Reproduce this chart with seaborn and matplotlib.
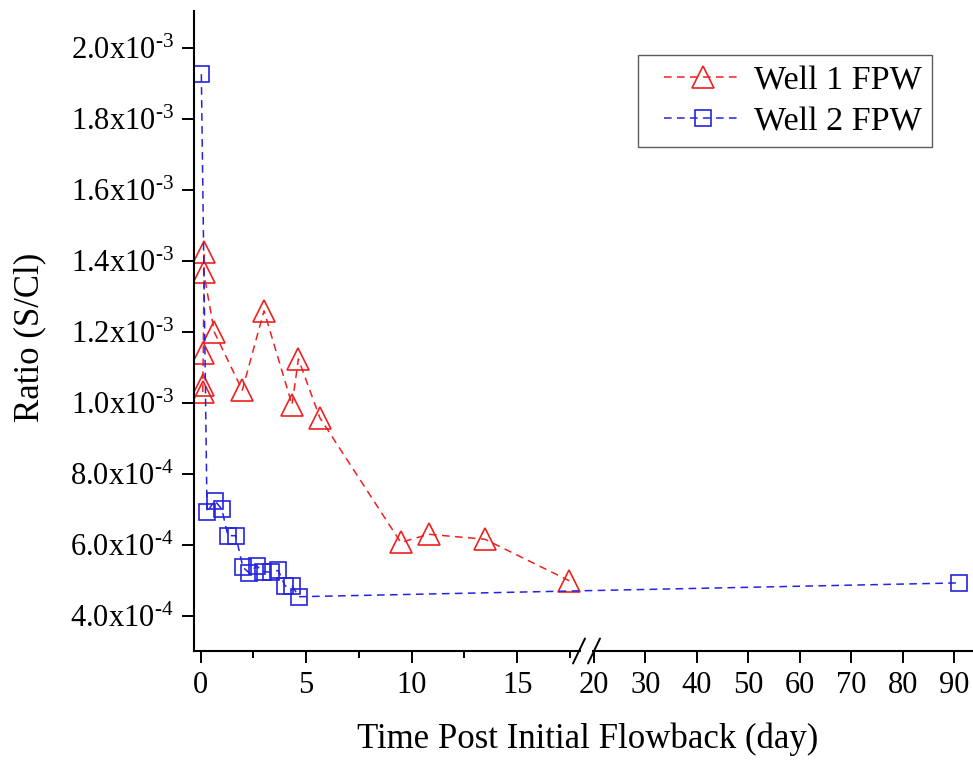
import numpy as np
import pandas as pd
import matplotlib
matplotlib.use("Agg")
import matplotlib.pyplot as plt
import seaborn as sns
from matplotlib.ticker import FuncFormatter, FixedLocator
from matplotlib.lines import Line2D
from matplotlib.legend_handler import HandlerLine2D

# ---------------- data ----------------
well1_day = [0.10, 0.10, 0.12, 0.17, 0.14, 0.65, 1.97, 3.00, 4.33, 4.63, 5.65, 9.48, 10.8, 13.47, 17.47]
well1_ratio = [1.030e-3, 1.050e-3, 1.140e-3, 1.425e-3, 1.368e-3, 1.198e-3, 1.035e-3, 1.259e-3,
               0.994e-3, 1.123e-3, 0.957e-3, 6.06e-4, 6.29e-4, 6.15e-4, 4.98e-4]

well2_day = [0.03, 0.30, 0.66, 1.00, 1.29, 1.66, 2.00, 2.30, 2.65, 2.95, 3.32, 3.68, 4.00, 4.33, 4.66, 90.9]
well2_ratio = [1.926e-3, 6.91e-4, 7.24e-4, 7.00e-4, 6.25e-4, 6.25e-4, 5.36e-4, 5.20e-4, 5.40e-4,
               5.24e-4, 5.22e-4, 5.27e-4, 4.83e-4, 4.83e-4, 4.53e-4, 4.92e-4]

series_names = ["Well 1 FPW", "Well 2 FPW"]
x_major_ticks = [0, 5, 10, 15, 20, 30, 40, 50, 60, 70, 80, 90]
x_minor_ticks = [2.5, 7.5, 12.5, 17.5]
y_ticks = [4e-4, 6e-4, 8e-4, 1.0e-3, 1.2e-3, 1.4e-3, 1.6e-3, 1.8e-3, 2.0e-3]

# ---------------- style ----------------
sns.set_style("ticks")
plt.rcParams["font.family"] = ["Liberation Serif", "DejaVu Serif"]
plt.rcParams["mathtext.fontset"] = "custom"
plt.rcParams["mathtext.rm"] = "Liberation Serif"
plt.rcParams["mathtext.it"] = "Liberation Serif:italic"
plt.rcParams["mathtext.bf"] = "Liberation Serif:bold"
for k in ["text.color", "axes.labelcolor", "xtick.color", "ytick.color", "axes.edgecolor"]:
    plt.rcParams[k] = "black"

RED = "#ee2020"
BLUE = "#2424e0"

# broken x-axis as a piecewise-linear scale
B1, X2, D2, K = 18.4, 20.0, 18.63, 0.2441


def fwd(x):
    x = np.asarray(x, dtype=float)
    return np.where(x <= B1, x,
                    np.where(x >= X2, D2 + (x - X2) * K,
                             B1 + (x - B1) * (D2 - B1) / (X2 - B1)))


def inv(d):
    d = np.asarray(d, dtype=float)
    return np.where(d <= B1, d,
                    np.where(d >= D2, X2 + (d - D2) / K,
                             B1 + (d - B1) * (X2 - B1) / (D2 - B1)))


fig = plt.figure(figsize=(9.73, 7.61), dpi=100)
ax = fig.add_axes([194 / 973, 1 - 651 / 761, 779 / 973, 640 / 761])
ax.set_xscale("function", functions=(fwd, inv))

df1 = pd.DataFrame({"day": well1_day, "ratio": well1_ratio})
df2 = pd.DataFrame({"day": well2_day, "ratio": well2_ratio})

sns.lineplot(data=df1, x="day", y="ratio", ax=ax, sort=False, estimator=None,
             color=RED, linestyle="--", linewidth=1.1, marker="^", markersize=16.5,
             markerfacecolor="none", markeredgecolor=RED, markeredgewidth=1.2,
             label=series_names[0])
sns.lineplot(data=df2, x="day", y="ratio", ax=ax, sort=False, estimator=None,
             color=BLUE, linestyle="--", linewidth=1.1, marker="s", markersize=12,
             markerfacecolor="none", markeredgecolor=BLUE, markeredgewidth=1.2,
             label=series_names[1])
for ln in ax.get_lines():
    ln.set_dashes((5, 3.5))

ax.set_xlim(float(inv(-0.318)), float(inv(36.6)))
ax.set_ylim(3.0e-4, 2.104e-3)

ax.xaxis.set_major_locator(FixedLocator(x_major_ticks))
ax.xaxis.set_minor_locator(FixedLocator(x_minor_ticks))
ax.xaxis.set_major_formatter(FuncFormatter(lambda v, p: f"{v:g}"))
ax.yaxis.set_major_locator(FixedLocator(y_ticks))
ax.yaxis.set_minor_locator(FixedLocator([]))


def yfmt(v, p):
    e = int(np.floor(np.log10(v) + 1e-9))
    m = v / 10 ** e
    return f"{m:.1f}x10$^{{\\text{{-{abs(e)}}}}}$"


ax.yaxis.set_major_formatter(FuncFormatter(yfmt))

for s in ["top", "right"]:
    ax.spines[s].set_visible(False)
for s in ["left", "bottom"]:
    ax.spines[s].set_linewidth(1.5)
    ax.spines[s].set_color("black")

ax.tick_params(axis="both", which="major", direction="out", length=8.5, width=1.4,
               labelsize=22, colors="black")
ax.tick_params(axis="x", which="minor", direction="out", length=5, width=1.4, colors="black")
ax.tick_params(axis="x", which="major", pad=6)
ax.tick_params(axis="y", which="major", pad=6)

ax.set_xlabel("Time Post Initial Flowback (day)", fontsize=25)
ax.set_ylabel("Ratio (S/Cl)", fontsize=25)
ax.xaxis.set_label_coords(0.505, -0.111)
ax.yaxis.set_label_coords(-0.189, 0.49)

# axis break marks
bw, bh = 6 / 779, 12.5 / 640
for cx in [(579 - 194) / 779, (594 - 194) / 779]:
    ax.plot([cx - bw, cx + bw], [-bh, bh], transform=ax.transAxes, color="black",
            lw=1.4, clip_on=False, zorder=5)
ax.plot([(581 - 194) / 779, (592 - 194) / 779], [0, 0], transform=ax.transAxes,
        color="white", lw=3, clip_on=False, zorder=4, solid_capstyle="butt")

leg = ax.legend(loc="upper right", bbox_to_anchor=(932 / 973, 1 - 55 / 761),
                bbox_transform=fig.transFigure, borderaxespad=0, fontsize=24.5,
                frameon=True, fancybox=False, handlelength=2.75, handletextpad=0.35,
                labelspacing=0.30, borderpad=0.30,
                handler_map={Line2D: HandlerLine2D(xpad=0.45)})
leg.get_frame().set_edgecolor("#333333")
leg.get_frame().set_linewidth(1.0)

fig.savefig("out.png", dpi=100)
